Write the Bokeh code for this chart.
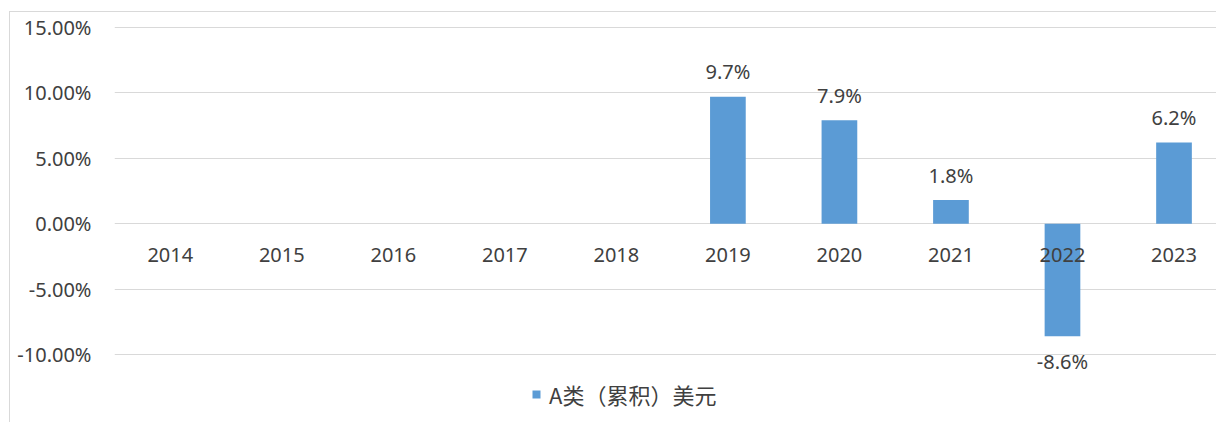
from bokeh.plotting import figure
from bokeh.models import (ColumnDataSource, Range1d, FixedTicker, NumeralTickFormatter,
                          Legend, LegendItem)
from bokeh.core.properties import value
from bokeh.embed import file_html
from bokeh.resources import INLINE

# ---- data ----
years = ["2014", "2015", "2016", "2017", "2018", "2019", "2020", "2021", "2022", "2023"]
returns = [None, None, None, None, None, 0.097, 0.079, 0.018, -0.086, 0.062]
series_name = "A类（累积）美元"
y_ticks = [-0.10, -0.05, 0.0, 0.05, 0.10, 0.15]

BAR = "#5B9BD5"
TXT = "#404040"
GRID = "#D9D9D9"
NUM_FONT = "Noto Sans"
CJK_FONT = "Noto Sans CJK SC"

idx = list(range(len(years)))
bx = [i for i, v in zip(idx, returns) if v is not None]
bv = [v for v in returns if v is not None]
bl = [f"{v*100:.1f}%" for v in bv]

bars = ColumnDataSource(dict(x=bx, top=bv, label=bl))
pos = ColumnDataSource(dict(x=[x for x, v in zip(bx, bv) if v >= 0],
                            y=[v for v in bv if v >= 0],
                            label=[l for l, v in zip(bl, bv) if v >= 0]))
neg = ColumnDataSource(dict(x=[x for x, v in zip(bx, bv) if v < 0],
                            y=[v for v in bv if v < 0],
                            label=[l for l, v in zip(bl, bv) if v < 0]))
cats = ColumnDataSource(dict(x=idx, y=[0.0] * len(idx), label=years))

p = figure(width=1207, height=411, output_backend="svg", toolbar_location=None,
           x_range=Range1d(-0.5, 9.39), y_range=Range1d(-0.1528, 0.1515),
           min_border_left=104, min_border_right=0, min_border_top=13, min_border_bottom=0)
# outer chart border, as in the reference (left and top edges)
p.styles = {"margin-left": "9px", "margin-top": "11px",
            "border-left": "1px solid #D9D9D9", "border-top": "1px solid #D9D9D9"}
p.outline_line_color = None
p.background_fill_color = "white"
p.border_fill_color = "white"

p.xaxis.visible = False
p.xgrid.visible = False
p.ygrid.grid_line_color = GRID
p.ygrid.grid_line_width = 1

yax = p.yaxis[0]
yax.ticker = FixedTicker(ticks=y_ticks)
yax.formatter = NumeralTickFormatter(format="0.00%")
yax.axis_line_color = None
yax.major_tick_line_color = None
yax.minor_tick_line_color = None
yax.major_label_standoff = 17
yax.major_label_text_font = NUM_FONT
yax.major_label_text_font_size = "20px"
yax.major_label_text_color = TXT

r = p.vbar(x="x", top="top", bottom=0, width=0.32, source=bars,
           fill_color=BAR, line_color=None)

p.text(x="x", y="y", text="label", source=cats, text_align="center",
       text_baseline="middle", y_offset=31, text_font=value(NUM_FONT),
       text_font_size="20px", text_color=TXT)
p.text(x="x", y="y", text="label", source=pos, text_align="center",
       text_baseline="middle", y_offset=-25, text_font=value(NUM_FONT),
       text_font_size="20px", text_color=TXT)
p.text(x="x", y="y", text="label", source=neg, text_align="center",
       text_baseline="middle", y_offset=25, text_font=value(NUM_FONT),
       text_font_size="20px", text_color=TXT)

legend = Legend(items=[LegendItem(label=series_name, renderers=[r])],
                location=(417, 13), orientation="horizontal",
                padding=0, margin=0, border_line_color=None, background_fill_alpha=0,
                glyph_width=10, glyph_height=10, label_standoff=8,
                label_text_font=CJK_FONT, label_text_font_size="22px",
                label_text_color=TXT)
p.add_layout(legend, "center")

open("out.html", "w").write(file_html(p, INLINE))
